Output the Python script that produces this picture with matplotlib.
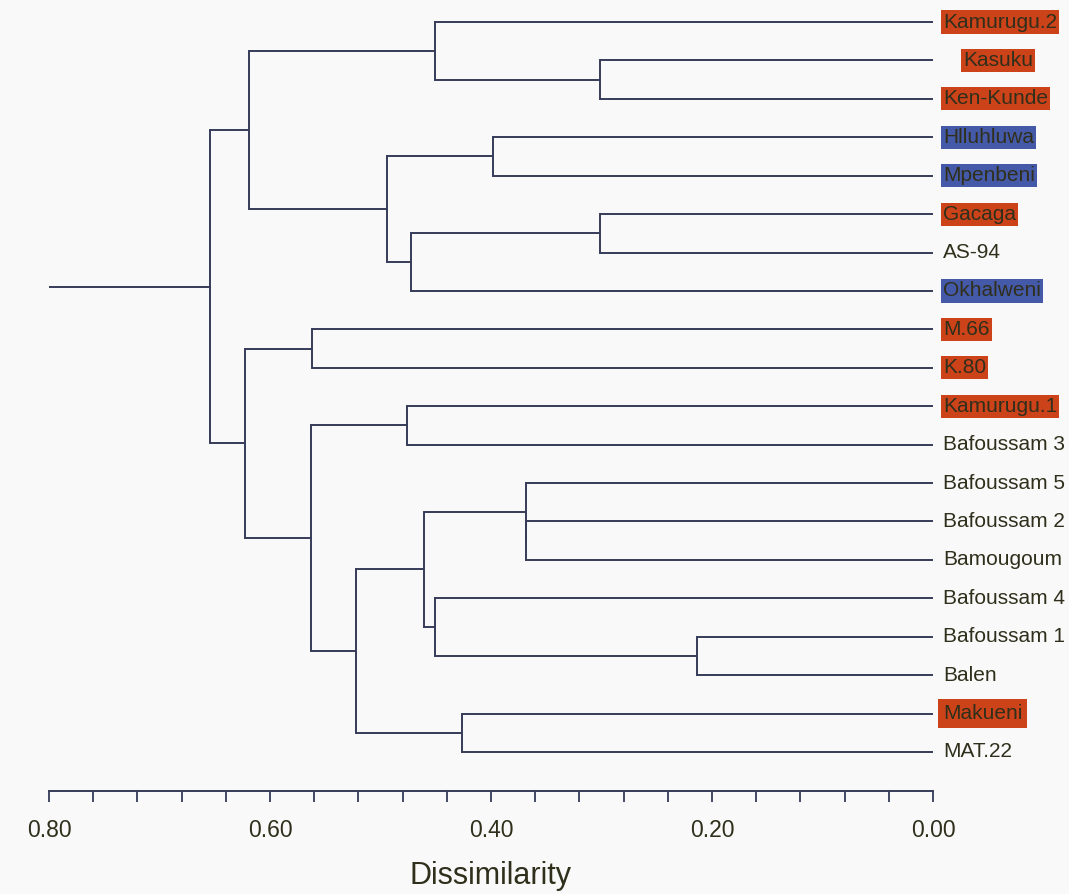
import matplotlib
matplotlib.use('Agg')
import matplotlib.pyplot as plt

# Leaf labels, top to bottom
leaves = ['Kamurugu.2', 'Kasuku', 'Ken-Kunde', 'Hlluhluwa', 'Mpenbeni',
          'Gacaga', 'AS-94', 'Okhalweni', 'M.66', 'K.80', 'Kamurugu.1',
          'Bafoussam 3', 'Bafoussam 5', 'Bafoussam 2', 'Bamougoum',
          'Bafoussam 4', 'Bafoussam 1', 'Balen', 'Makueni', 'MAT.22']

# Label highlight group: 'o' orange, 'b' blue, '' none
groups = ['o', 'o', 'o', 'b', 'b', 'o', '', 'b', 'o', 'o', 'o',
          '', '', '', '', '', '', '', 'o', '']

# Merges: (child a, child b, dissimilarity); children >= 20 are earlier merges
merge_a = [1, 0, 3, 5, 23, 22, 21, 8, 10, 13, 12, 16, 15, 30, 18, 33, 28, 27, 26]
merge_b = [2, 20, 4, 6, 7, 24, 25, 9, 11, 14, 29, 17, 31, 32, 19, 34, 35, 36, 37]
merge_h = [0.301, 0.451, 0.398, 0.301, 0.472, 0.494, 0.619, 0.562, 0.476,
           0.368, 0.368, 0.214, 0.451, 0.461, 0.426, 0.522, 0.563, 0.623, 0.654]

root_len = 0.80
xticks_major = [0.80, 0.60, 0.40, 0.20, 0.00]

line_col = '#363b58'
text_col = '#2f2f1c'
box_cols = {'o': '#cc4219', 'b': '#4459a8'}

W, H = 1069, 894
fig = plt.figure(figsize=(W / 100, H / 100), dpi=100, facecolor='#f9f9f9')
ax_left, ax_right, ax_top, ax_bot = 49, 933, 0, 791
ax = fig.add_axes([ax_left / W, (H - ax_bot) / H, (ax_right - ax_left) / W,
                   (ax_bot - ax_top) / H])
ax.set_facecolor('#f9f9f9')

# leaf y positions in pixels -> data units (leaf index)
y0, step = 22, 38.42
ax.set_xlim(0.80, 0.0)
ax.set_ylim((ax_bot - y0) / step, (ax_top - y0) / step)

n = len(leaves)
ypos = {i: float(i) for i in range(n)}
xpos = {i: 0.0 for i in range(n)}

lw = 1.4
for k, (a, b, h) in enumerate(zip(merge_a, merge_b, merge_h)):
    node = n + k
    ax.plot([xpos[a], h], [ypos[a], ypos[a]], color=line_col, lw=lw, solid_capstyle='butt')
    ax.plot([xpos[b], h], [ypos[b], ypos[b]], color=line_col, lw=lw, solid_capstyle='butt')
    ax.plot([h, h], [ypos[a], ypos[b]], color=line_col, lw=lw, solid_capstyle='projecting')
    ypos[node] = (ypos[a] + ypos[b]) / 2
    xpos[node] = h

root = n + len(merge_h) - 1
ax.plot([xpos[root], root_len], [ypos[root], ypos[root]], color=line_col, lw=lw)

# leaf labels
label_shift = {'Kasuku': 20}
box_pad = {'Makueni': 0.24}
for i, (name, g) in enumerate(zip(leaves, groups)):
    bbox = None
    if g:
        bbox = dict(boxstyle='square,pad=%.2f' % box_pad.get(name, 0.1),
                    facecolor=box_cols[g], edgecolor='none')
    ax.annotate(name, (0.0, i), xytext=(10 + label_shift.get(name, 0), 0),
                textcoords='offset pixels', va='center', ha='left',
                fontsize=15, family='Liberation Sans', color=text_col,
                bbox=bbox, annotation_clip=False)

# axis
for s in ['top', 'left', 'right']:
    ax.spines[s].set_visible(False)
ax.spines['bottom'].set_color(line_col)
ax.spines['bottom'].set_linewidth(1.4)
ax.set_yticks([])
ax.set_xticks(xticks_major)
ax.set_xticklabels(['%.2f' % v for v in xticks_major])
ax.set_xticks([i * 0.04 for i in range(21)], minor=True)
ax.tick_params(axis='x', which='both', direction='out', length=8, width=1.3,
               color=line_col, labelsize=16.5, labelcolor=text_col, pad=12)
for t in ax.get_xticklabels():
    t.set_family('Liberation Sans')
ax.set_xlabel('Dissimilarity', fontsize=22, family='Liberation Sans',
              color=text_col, labelpad=14)

fig.savefig('out.png', dpi=100, facecolor=fig.get_facecolor())
